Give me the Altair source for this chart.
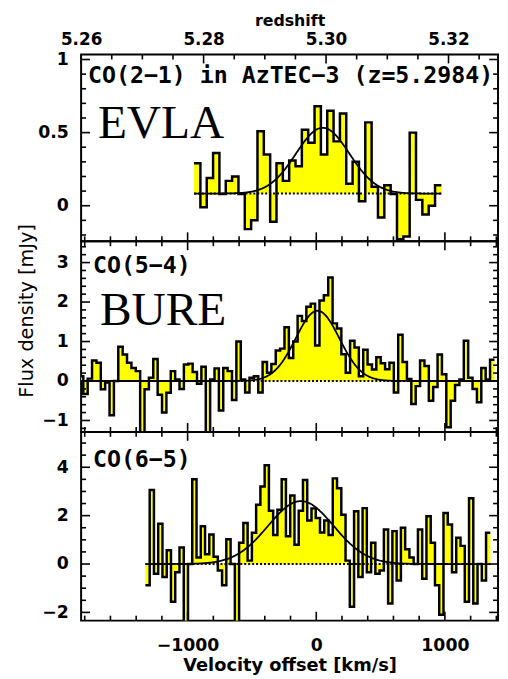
import altair as alt
import numpy as np
import pandas as pd

# ---------------- constants / axes ----------------
C_KMS = 299792.458
Z0 = 5.2984
V_MIN, V_MAX = -1828, 1413
Z_MIN = Z0 + V_MIN * (1 + Z0) / C_KMS
Z_MAX = Z0 + V_MAX * (1 + Z0) / C_KMS

vel_major = [-1000, 0, 1000]
vel_minor = [-1800, -1600, -1400, -1200, -800, -600, -400, -200,
             200, 400, 600, 800, 1200, 1400]
z_major = [5.26, 5.28, 5.30, 5.32]
z_minor = [5.265, 5.27, 5.275, 5.285, 5.29, 5.295, 5.305, 5.31, 5.315, 5.325]

# ---------------- panel 1: CO(2-1), EVLA ----------------
top_v0 = -950
top_dv = 49.3
top_flux = [0.29, -0.01, 0.19, 0.36, 0.08, 0.17, 0.20, 0.08, -0.16, -0.10,
            0.51, 0.35, -0.11, 0.29, 0.17, 0.31, 0.27, 0.52, 0.43, 0.68,
            0.35, 0.65, 0.44, 0.63, 0.15, 0.30, 0.03, 0.57, 0.13, -0.08,
            0.14, 0.08, -0.23, -0.21, 0.50, 0.04, -0.06, 0.00, 0.14]
top_fit = [0.083, 0.45, 50, 490]          # baseline, amplitude, centre, FWHM
top_fit_range = [-950, 973]
top_ydom = [-0.243, 1.034]
top_ymajor = [0, 0.5, 1]
top_yminor = [-0.2, -0.1, 0.1, 0.2, 0.3, 0.4, 0.6, 0.7, 0.8, 0.9]

# ---------------- panel 2: CO(5-4), Bure ----------------
mid_v0 = -1845
mid_dv = 34.0
mid_flux = [0.12, -0.33, 0.06, 0.52, 0.46, -0.21, -0.04, -0.87, 0.0, 0.87,
            0.67, 0.46, 0.33, 0.25, -1.3, -0.21, 0.08, 0.56, -0.35, -0.80,
            -0.30, 0.25, 0.04, -0.20, 0.42, 0.44, 0.23, -0.07, 0.36, -1.3,
            0.04, 0.32, -0.75,
            0.33, 0.25, -0.48, 1.0, 0.04, -0.29, 0.08, 0.12, -0.29, 0.48,
            0.21, 0.43, 0.77, 0.82, 1.36, 0.58, 1.0, 1.65, 1.52, 1.88,
            1.96, 0.9, 2.04, 2.17, 2.62, 1.46, 1.33, 0.68, 0.21, 1.02,
            0.85, 0.12, 0.79,
            0.42, 0.29, 0.60, 0.45, 0.30, 0.46, -0.29, 1.17, 0.48, 0.05,
            -0.58, -0.13, 0.52, 0.38, -0.50, -0.15, 0.67, 0.17, -1.17, -0.50,
            -0.10, 0.04, 1.02, 0.08, -0.20, -0.54, 0.33, 0.04, 0.54]
mid_fit = [0.0, 1.78, 10, 400]
mid_fit_range = [V_MIN, V_MAX]
mid_ydom = [-1.29, 3.54]
mid_ymajor = [-1, 0, 1, 2, 3]
mid_yminor = [-1.2, -0.8, -0.6, -0.4, -0.2, 0.2, 0.4, 0.6, 0.8, 1.2, 1.4,
              1.6, 1.8, 2.2, 2.4, 2.6, 2.8, 3.2, 3.4]

# ---------------- panel 3: CO(6-5) ----------------
bot_v0 = -1328
bot_dv = 33.1
bot_flux = [-0.88, 3.06, -0.4, 1.66, -0.54, 0.57, -1.56, -0.34, 0.68, -2.4,
            0.0, 3.5, 0.27, 1.56, 0.4, 1.22, 0.3, -0.27, -0.88, 1.02,
            0.0, -2.4, 0.88, 1.7, 0.14, 1.29, 2.45, 3.2, 4.08, 2.2,
            1.2, 2.24, 3.5, 1.15, 2.83, 0.8, 2.2, 3.47, 1.8, 2.3,
            1.9, 1.3, 1.8, 1.2, 3.54, 3.13, 2.04, 0.14, -1.77, 2.18,
            -0.54, 2.31, -0.34, 0.88, -0.4, -0.27, 1.43, -1.63, 1.36, -0.68,
            1.5, 0.61, 0.27, 0.0, 1.43, -0.61, 1.97, 0.88, -0.88, -2.1,
            2.11, 1.63, -0.34, 1.09, 0.75, -1.56, 2.72, -1.63, 0.0, -0.68,
            1.29]
bot_fit = [0.0, 2.6, -120, 600]
bot_fit_range = [-1328, 1353]
bot_ydom = [-2.34, 5.46]
bot_ymajor = [-2, 0, 2, 4]
bot_yminor = [-1.5, -1, -0.5, 0.5, 1, 1.5, 2.5, 3, 3.5, 4.5, 5]

W = 422
LABEL_FONT = "DejaVu Sans"
MAJ, MIN = 9, 5
STEP_W = 2.5


def step_df(flux, v0, dv, base):
    v = [v0 + i * dv for i in range(len(flux))] + [v0 + len(flux) * dv]
    f = list(flux) + [flux[-1]]
    return pd.DataFrame({"v": v, "f": f, "base": base})


def gauss_df(fit, rng):
    base, amp, cen, fwhm = fit
    v = np.linspace(rng[0], rng[1], 400)
    g = base + amp * np.exp(-4 * np.log(2) * (v - cen) ** 2 / fwhm ** 2)
    return pd.DataFrame({"v": v, "g": g})


def text_layer(txt, x, y, font, size, weight="normal"):
    return alt.Chart(pd.DataFrame({"t": [txt]})).mark_text(
        align="left", baseline="alphabetic", font=font, fontSize=size,
        fontWeight=weight, color="black"
    ).encode(text="t:N", x=alt.value(x), y=alt.value(y))


def panel(flux, v0, dv, fit, fit_rng, ydom, H, ymaj, ymin, texts,
          xaxis, ytitle=None, redshift=False):
    xs = alt.Scale(domain=[V_MIN, V_MAX], nice=False, zero=False)
    ys = alt.Scale(domain=ydom, nice=False, zero=False)
    yax = alt.Axis(values=ymaj, format="~g", ticks=False, domain=False,
                   grid=False, labelPadding=13, labelFont=LABEL_FONT,
                   labelFontSize=17.5, labelFontWeight="bold",
                   labelColor="black", labelFlush=False, labelOverlap=False,
                   title=ytitle if ytitle else None,
                   **({"titleFont": LABEL_FONT, "titleFontSize": 19.5,
                       "titleFontWeight": "normal", "titleColor": "black",
                       "titleX": -45, "titleY": 70} if ytitle else {}))

    def X(field="v"):
        return alt.X(f"{field}:Q", scale=xs, axis=xaxis,
                     title=None if xaxis is None else xaxis.title)

    def Y(field):
        return alt.Y(f"{field}:Q", scale=ys, axis=yax,
                     title=ytitle if ytitle else None)

    base = fit[0]
    sdf = step_df(flux, v0, dv, base)
    gdf = gauss_df(fit, fit_rng)

    area = alt.Chart(sdf).mark_area(color="#FFFF00", interpolate="step-after",
                                    clip=True).encode(
        x=X(), y=Y("f"), y2="base:Q")
    dotted = alt.Chart(pd.DataFrame({"v": [v0, v0 + len(flux) * dv],
                                     "b": [base, base]})).mark_line(
        color="black", strokeDash=[2, 2], strokeWidth=2, clip=True).encode(
        x=X(), y=Y("b"))
    step = alt.Chart(sdf).mark_line(color="black", strokeWidth=STEP_W,
                                    interpolate="step-after",
                                    clip=True).encode(x=X(), y=Y("f"))
    gauss = alt.Chart(gdf).mark_line(color="black", strokeWidth=1.8,
                                     clip=True).encode(x=X(), y=Y("g"))

    layers = [area, dotted, step, gauss]

    # inward y ticks (left and right)
    for vals, ln in ((ymaj, MAJ), (ymin, MIN)):
        d = pd.DataFrame({"t": vals})
        layers.append(alt.Chart(d).mark_rule(color="black", strokeWidth=1.6).encode(
            y=Y("t"), x=alt.value(0), x2=alt.value(ln)))
        layers.append(alt.Chart(d).mark_rule(color="black", strokeWidth=1.6).encode(
            y=Y("t"), x=alt.value(W), x2=alt.value(W - ln)))

    # inward velocity ticks (bottom edge, and top edge unless redshift)
    for vals, ln in ((vel_major, MAJ), (vel_minor, MIN)):
        d = pd.DataFrame({"t": vals})
        layers.append(alt.Chart(d).mark_rule(color="black", strokeWidth=1.6).encode(
            x=X("t"), y=alt.value(H), y2=alt.value(H - ln)))
        if not redshift:
            layers.append(alt.Chart(d).mark_rule(color="black", strokeWidth=1.6).encode(
                x=X("t"), y=alt.value(0), y2=alt.value(ln)))

    if redshift:
        zs = alt.Scale(domain=[Z_MIN, Z_MAX], nice=False, zero=False)
        zax = alt.Axis(orient="top", values=z_major, format=".2f", ticks=False,
                       domain=False, grid=False, labelPadding=10,
                       labelBaseline="alphabetic",
                       labelFont=LABEL_FONT, labelFontSize=17,
                       labelFontWeight="bold", labelColor="black",
                       labelFlush=False, labelOverlap=False, title="redshift",
                       titleFont=LABEL_FONT, titleFontSize=16,
                       titleFontWeight="bold", titleColor="black",
                       titleY=-29, titleBaseline="alphabetic")
        layers.append(alt.Chart(pd.DataFrame({"z": z_major})).mark_rule(
            color="black", strokeWidth=1.6).encode(
            x=alt.X("z:Q", scale=zs, axis=zax, title="redshift"),
            y=alt.value(0), y2=alt.value(MAJ)))
        layers.append(alt.Chart(pd.DataFrame({"z": z_minor})).mark_rule(
            color="black", strokeWidth=1.6).encode(
            x=alt.X("z:Q", scale=zs, axis=None),
            y=alt.value(0), y2=alt.value(MIN)))

    for t in texts:
        layers.append(text_layer(*t))

    ch = alt.layer(*layers).properties(width=W, height=H)
    if redshift:
        ch = ch.resolve_scale(x="independent")
    return ch


MONO = "DejaVu Sans Mono"
SERIF = "Liberation Serif"

p1 = panel(top_flux, top_v0, top_dv, top_fit, top_fit_range, top_ydom, 189,
           top_ymajor, top_yminor,
           [("CO(2\u22121) in AzTEC\u22123 (z=5.2984)", 7, 29, MONO, 23.5, "bold"),
            ("EVLA", 17, 84, SERIF, 48)],
           None, redshift=True)

p2 = panel(mid_flux, mid_v0, mid_dv, mid_fit, mid_fit_range, mid_ydom, 193,
           mid_ymajor, mid_yminor,
           [("CO(5\u22124)", 12, 32, MONO, 23.5, "bold"),
            ("BURE", 19, 85, SERIF, 48)],
           None, ytitle="Flux density [mJy]")

xax_bottom = alt.Axis(values=vel_major, format="d", ticks=False, domain=False,
                      grid=False, labelPadding=16, labelFont=LABEL_FONT,
                      labelFontSize=17.5, labelFontWeight="bold",
                      labelColor="black", labelFlush=False, labelOverlap=False,
                      title="Velocity offset [km/s]", titleFont=LABEL_FONT,
                      titleFontSize=18, titleFontWeight="bold",
                      titleColor="black", titlePadding=3)

p3 = panel(bot_flux, bot_v0, bot_dv, bot_fit, bot_fit_range, bot_ydom, 191,
           bot_ymajor, bot_yminor,
           [("CO(6\u22125)", 12, 35, MONO, 23.5, "bold")],
           xax_bottom)

chart = alt.vconcat(p1, p2, p3, spacing=0, bounds="flush").configure_view(
    stroke="black", strokeWidth=2
).properties(
    padding={"left": 8, "top": 0, "right": 0, "bottom": 0},
    background="white"
)

chart.save("out.html", embed_options={"renderer": "svg", "actions": False})
